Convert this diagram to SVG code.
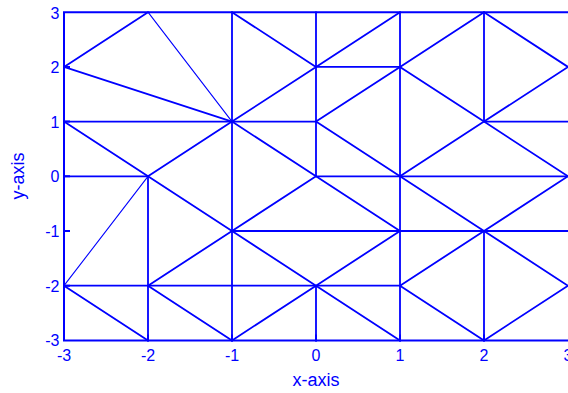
<svg xmlns="http://www.w3.org/2000/svg" width="568" height="393" viewBox="0 0 568 393">
<style>
.ax{stroke:#0000ff;stroke-width:2;fill:none;stroke-linecap:square}
.m{stroke:#0000ff;stroke-width:1.8;fill:none;stroke-linecap:round}
.t{stroke:#0000ff;stroke-width:1.1;fill:none;stroke-linecap:round}
.tk{font-family:"Liberation Sans",Arial,sans-serif;font-size:16px;fill:#0000ff}
.lb{font-family:"Liberation Sans",Arial,sans-serif;font-size:18px;fill:#0000ff}
</style>
<rect width="568" height="393" fill="#ffffff"/>
<g id="axes">
<path class="ax" d="M64,12.2 H568 M64,12.2 V340.4 H568"/>
<path class="ax" d="M64,66.9 h5 M64,121.6 h5 M64,176.3 h5 M64,231 h5 M64,285.7 h5 M148,340.4 v-5 M232,340.4 v-5 M316,340.4 v-5 M400,340.4 v-5 M484,340.4 v-5"/>
</g>
<g id="mesh">
<path class="m" d="M316,66.9 H400 M64,121.6 H316 M484,121.6 H568 M64,176.3 H148 M316,176.3 H568 M232,231 H568 M64,285.7 H400"/>
<path class="m" d="M148,176.3 V340.4 M232,12.2 V340.4 M316,12.2 V176.3 M316,285.7 V340.4 M400,12.2 V340.4 M484,12.2 V121.6 M484,231 V340.4"/>
<path class="m" d="M64,66.9 L148,12.2 M64,66.9 L232,121.6 M64,121.6 L148,176.3 M148,176.3 L232,121.6 M148,176.3 L232,231 M64,285.7 L148,340.4 M148,285.7 L232,231 M148,285.7 L232,340.4"/>
<path class="t" d="M148,12.2 L232,121.6 M148,176.3 L64,285.7"/>
<path class="m" d="M232,12.2 L316,66.9 M316,66.9 L400,12.2 M232,121.6 L316,66.9 M232,121.6 L316,176.3 M316,121.6 L400,66.9 M316,121.6 L400,176.3 M316,176.3 L232,231 M316,176.3 L400,231 M232,231 L316,285.7 M316,285.7 L400,231 M316,285.7 L232,340.4 M316,285.7 L400,340.4"/>
<path class="m" d="M400,66.9 L484,12.2 M400,66.9 L484,121.6 M484,12.2 L568,66.9 M484,121.6 L568,66.9 M484,121.6 L400,176.3 M484,121.6 L568,176.3 M400,176.3 L484,231 M484,231 L568,176.3 M484,231 L400,285.7 M484,231 L568,285.7 M400,285.7 L484,340.4 M484,340.4 L568,285.7"/>
</g>
<g id="yticks" class="tk" text-anchor="end">
<text x="59.5" y="19">3</text>
<text x="59.5" y="73">2</text>
<text x="59.5" y="127.6">1</text>
<text x="59.5" y="182.3">0</text>
<text x="59.5" y="237">-1</text>
<text x="59.5" y="291.7">-2</text>
<text x="59.5" y="346.4">-3</text>
</g>
<g id="xticks" class="tk" text-anchor="middle">
<text x="64" y="361">-3</text>
<text x="148" y="361">-2</text>
<text x="232" y="361">-1</text>
<text x="316" y="361">0</text>
<text x="400" y="361">1</text>
<text x="484" y="361">2</text>
<text x="568" y="361">3</text>
</g>
<g id="labels" class="lb" text-anchor="middle">
<text x="316" y="386">x-axis</text>
<text x="0" y="0" transform="translate(24,176) rotate(-90)">y-axis</text>
</g>
</svg>
